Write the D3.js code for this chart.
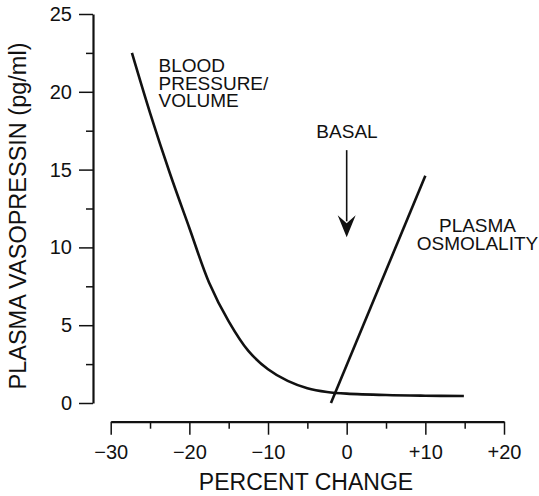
<!DOCTYPE html>
<html>
<head>
<meta charset="utf-8">
<script src="https://cdn.jsdelivr.net/npm/d3@7"></script>
<style>
  body { margin: 0; background: #fff; }
  svg { display: block; font-family: "Liberation Sans", Arial, Helvetica, sans-serif; }
  .axis path, .axis line { stroke: #111; }
  .axis text { fill: #111; font-size: 20px; }
</style>
</head>
<body>
<svg width="539" height="496"></svg>
<script>
// Data
var pressureX = [-27.3, -25, -22.5, -20, -17.5, -15, -12.5, -10, -7.5, -5, -2.5, 0, 5, 10, 14.9]
  , pressureY = [22.5, 18.65, 14.8, 11.25, 7.75, 5.25, 3.35, 2.17, 1.42, 0.95, 0.71, 0.6, 0.51, 0.47, 0.45]
  , osmolalityX = [-2.0, 10.0]
  , osmolalityY = [0, 14.6]
  , xMajorTicks = [-30, -20, -10, 0, 10, 20]
  , xMinorTicks = [-25, -15, -5, 5, 15]
  , yMajorTicks = [0, 5, 10, 15, 20, 25]
  , yMinorTicks = [2.5, 7.5, 12.5, 17.5, 22.5]
  , basalX = 0
  , basalY = [16.25, 10.65]
;

// Layout
var svg = d3.select("svg")
  , xScale = d3.scaleLinear().domain([-30, 20]).range([110.7, 504])
  , yScale = d3.scaleLinear().domain([0, 25]).range([403, 14])
  , yAxisX = 93
  , xAxisY = 421.7
  , signFormat = function (d){ return d > 0 ? "+" + d : d < 0 ? "\u2212" + Math.abs(d) : "0"; }
;

// Y axis (major + minor ticks)
var yAxisG = svg.append("g")
    .attr("class", "axis")
    .attr("transform", "translate(" + yAxisX + ",0)")
;
yAxisG.call(d3.axisLeft(yScale).tickValues(yMajorTicks).tickSize(14).tickSizeOuter(0).tickPadding(7));
yAxisG.append("g")
    .call(d3.axisLeft(yScale).tickValues(yMinorTicks).tickSize(7).tickSizeOuter(0).tickFormat(""))
    .select(".domain").remove();
yAxisG.selectAll(".domain").attr("stroke-width", 2.2);
yAxisG.selectAll(".tick line").attr("stroke-width", 1.5);

// X axis (separate, below)
var xAxisG = svg.append("g")
    .attr("class", "axis")
    .attr("transform", "translate(0," + xAxisY + ")")
;
xAxisG.call(d3.axisBottom(xScale).tickValues(xMajorTicks).tickSize(13).tickSizeOuter(0).tickPadding(10).tickFormat(signFormat));
xAxisG.append("g")
    .call(d3.axisBottom(xScale).tickValues(xMinorTicks).tickSize(7).tickSizeOuter(0).tickFormat(""))
    .select(".domain").remove();
xAxisG.selectAll(".domain").attr("stroke-width", 2.2);
xAxisG.selectAll(".tick line").attr("stroke-width", 1.5);

// Axis titles
svg.append("text")
    .attr("x", 306)
    .attr("y", 490)
    .attr("text-anchor", "middle")
    .attr("font-size", 23)
    .attr("fill", "#111")
    .text("PERCENT CHANGE");
svg.append("text")
    .attr("transform", "translate(26,216) rotate(-90)")
    .attr("text-anchor", "middle")
    .attr("font-size", 23.5)
    .attr("fill", "#111")
    .text("PLASMA VASOPRESSIN (pg/ml)");

// Curves
var line = d3.line()
    .x(function (d){ return xScale(d[0]); })
    .y(function (d){ return yScale(d[1]); })
;
svg.append("path")
    .datum(d3.zip(pressureX, pressureY))
    .attr("d", line.curve(d3.curveCatmullRom.alpha(0.5)))
    .attr("fill", "none")
    .attr("stroke", "#111")
    .attr("stroke-width", 2.6);
svg.append("path")
    .datum(d3.zip(osmolalityX, osmolalityY))
    .attr("d", line.curve(d3.curveLinear))
    .attr("fill", "none")
    .attr("stroke", "#111")
    .attr("stroke-width", 2.6);

// Basal arrow
var ax = xScale(basalX)
  , ay0 = yScale(basalY[0])
  , ay1 = yScale(basalY[1])
;
svg.append("line")
    .attr("x1", ax).attr("x2", ax)
    .attr("y1", ay0).attr("y2", ay1 - 16)
    .attr("stroke", "#111")
    .attr("stroke-width", 1.6);
svg.append("path")
    .attr("d", "M" + (ax - 9) + "," + (ay1 - 22) + "L" + ax + "," + (ay1 - 14) + "L" + (ax + 9) + "," + (ay1 - 22) + "L" + ax + "," + ay1 + "Z")
    .attr("fill", "#111");

// Labels
function label(lines, x, y, anchor, spacing) {
  var t = svg.append("text")
      .attr("font-size", 19)
      .attr("fill", "#111")
      .attr("text-anchor", anchor);
  lines.forEach(function (s, i){
    t.append("tspan").attr("x", x).attr("y", y + i * spacing).text(s);
  });
}
label(["BLOOD", "PRESSURE/", "VOLUME"], 158.5, 72, "start", 17.5);
label(["BASAL"], 347, 137.5, "middle", 0);
label(["PLASMA", "OSMOLALITY"], 477.5, 231.5, "middle", 18.8);
</script>
</body>
</html>
